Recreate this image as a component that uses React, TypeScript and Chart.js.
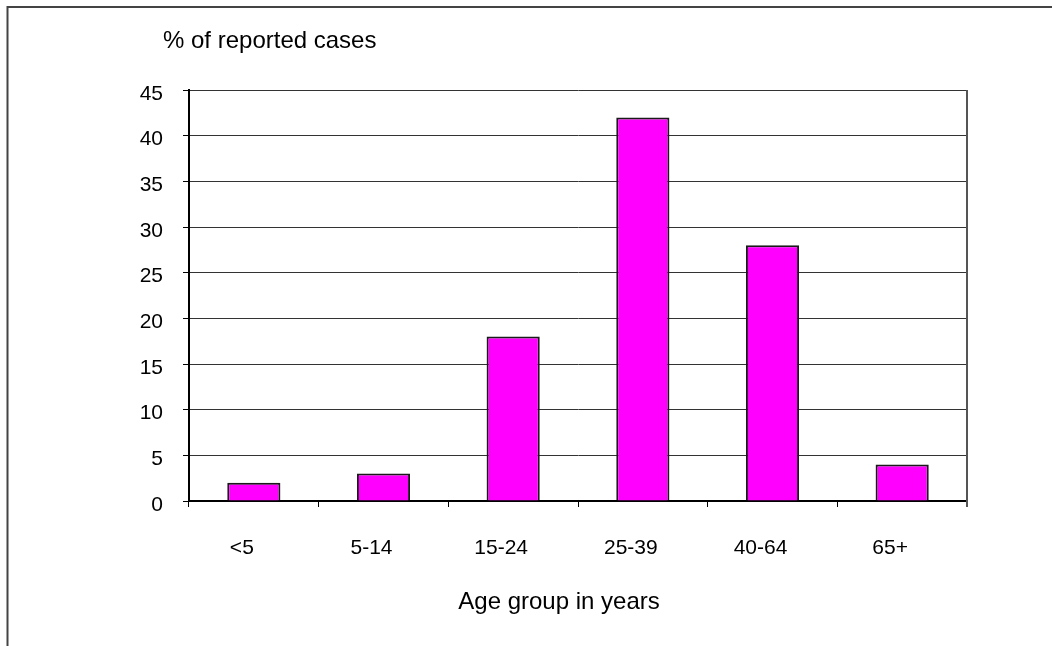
import React, { useEffect, useRef } from "react";
import { Chart, registerables } from "chart.js";

Chart.register(...registerables);

// Share of reported cases by age group
const ageGroups = ["<5", "5-14", "15-24", "25-39", "40-64", "65+"];
const percentCases = [2, 3, 18, 42, 28, 4];
const yTicks = { min: 0, max: 45, step: 5 };

const yTitle = "% of reported cases";
const xTitle = "Age group in years";

const FONT = "'Liberation Sans', Arial, sans-serif";

// Outer frame, plot border on the right, and the two free-standing titles
const decorPlugin = {
  id: "decor",
  afterDraw(chart: Chart) {
    const { ctx, chartArea } = chart;
    ctx.save();
    // frame: top and left edges
    ctx.strokeStyle = "#444444";
    ctx.lineWidth = 2;
    ctx.beginPath();
    ctx.moveTo(7.5, 646);
    ctx.lineTo(7.5, 7);
    ctx.lineTo(1052, 7);
    ctx.stroke();
    // right border of the plot area
    ctx.strokeStyle = "#555555";
    ctx.lineWidth = 2;
    ctx.beginPath();
    ctx.moveTo(chartArea.right, chartArea.top);
    ctx.lineTo(chartArea.right, chartArea.bottom + 6);
    ctx.stroke();
    // titles
    ctx.fillStyle = "#000000";
    ctx.font = `24px ${FONT}`;
    ctx.textBaseline = "alphabetic";
    ctx.textAlign = "left";
    ctx.fillText(yTitle, 163, 48);
    ctx.textAlign = "center";
    ctx.fillText(xTitle, 559, 609);
    ctx.restore();
  },
};

export default function App() {
  const canvasRef = useRef<HTMLCanvasElement | null>(null);

  useEffect(() => {
    const canvas = canvasRef.current;
    if (!canvas) return;
    const chart = new Chart(canvas, {
      type: "bar",
      data: {
        labels: ageGroups,
        datasets: [
          {
            data: percentCases,
            backgroundColor: "#FF00FF",
            borderColor: "#1a1a1a",
            borderWidth: 2,
            categoryPercentage: 1,
            barPercentage: 0.41,
          },
        ],
      },
      options: {
        responsive: false,
        animation: false,
        layout: { padding: { top: 90, right: 85, bottom: 0, left: 0 } },
        plugins: {
          legend: { display: false },
          tooltip: { enabled: false },
        },
        scales: {
          x: {
            offset: true,
            grid: {
              offset: true,
              drawOnChartArea: false,
              drawTicks: true,
              tickLength: 6,
              color: "#000000",
              lineWidth: 1,
            },
            border: { color: "#000000", width: 2 },
            ticks: {
              color: "#000000",
              font: { family: FONT, size: 21 },
              padding: 29,
              labelOffset: -12,
              maxRotation: 0,
              autoSkip: false,
            },
            afterFit(scale: any) {
              scale.height = 145;
            },
          },
          y: {
            min: yTicks.min,
            max: yTicks.max,
            grid: {
              color: "#333333",
              lineWidth: 1,
              tickLength: 6,
              tickColor: "#000000",
            },
            border: { color: "#000000", width: 2 },
            ticks: {
              stepSize: yTicks.step,
              color: "#000000",
              font: { family: FONT, size: 21 },
              padding: 20,
              labelOffset: 4,
            },
            afterFit(scale: any) {
              scale.width = 189;
            },
          },
        },
      },
      plugins: [decorPlugin],
    });
    return () => chart.destroy();
  }, []);

  return (
    <div style={{ position: "fixed", left: 0, top: 0, width: 1052, height: 646, background: "#ffffff" }}>
      <canvas ref={canvasRef} width={1052} height={646} />
    </div>
  );
}
